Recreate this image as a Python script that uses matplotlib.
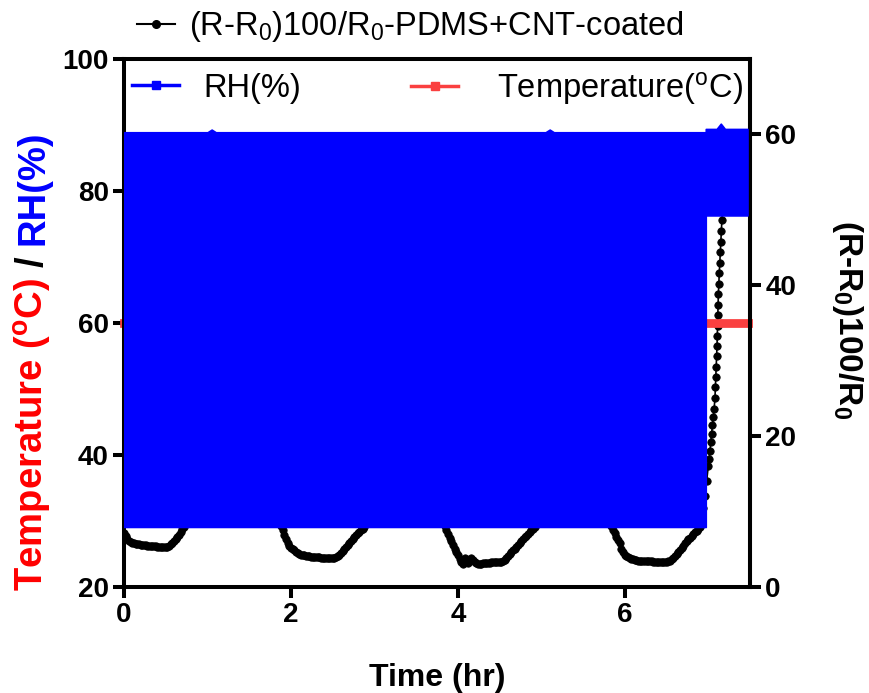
import numpy as np
import matplotlib
matplotlib.use("Agg")
import matplotlib.pyplot as plt
from matplotlib.lines import Line2D

plt.rcParams['font.family'] = ['Liberation Sans', 'DejaVu Sans']
plt.rcParams['mathtext.fontset'] = 'custom'
plt.rcParams['mathtext.rm'] = 'Liberation Sans'
plt.rcParams['mathtext.it'] = 'Liberation Sans:italic'
plt.rcParams['mathtext.bf'] = 'Liberation Sans:bold'

# ---- data -------------------------------------------------------------
# resistance change (R-R0)100/R0 of the PDMS+CNT coated sensor.
# Low-humidity dips are logged every 0.02 hr from the given start time.
dip_step = 0.02
dip1_start = 0.00
dip1 = [7.15, 6.8, 6.4, 6.05, 5.9, 5.82, 5.78, 5.74, 5.7, 5.66, 5.62, 5.58, 5.56,
        5.53, 5.5, 5.47, 5.45, 5.43, 5.4, 5.38, 5.36, 5.33, 5.31, 5.29, 5.27, 5.26,
        5.3, 5.45, 5.65, 5.85, 6.05, 6.3, 6.6, 6.95, 7.3, 7.65, 8.0]
dip2_start = 1.88
dip2 = [8.1, 7.5, 6.9, 6.3, 5.8, 5.45, 5.2, 5.0, 4.85, 4.65, 4.5, 4.4, 4.3, 4.22,
        4.18, 4.12, 4.08, 4.05, 4.02, 4.0, 3.97, 3.95, 3.94, 3.92, 3.91, 3.9, 3.88,
        3.87, 3.85, 3.83, 3.8, 3.82, 3.9, 4.0, 4.12, 4.3, 4.55, 4.8, 5.05, 5.3, 5.6,
        5.85, 6.1, 6.35, 6.6, 6.85, 7.1, 7.35, 7.5, 7.7, 7.9]
dip3_start = 3.84
dip3 = [8.1, 7.6, 7.0, 6.5, 6.05, 5.55, 5.1, 4.7, 4.25, 3.75, 3.3, 3.1, 3.8, 3.3,
        3.2, 3.4, 3.9, 3.6, 3.3, 3.15, 3.1, 3.1, 3.1, 3.12, 3.15, 3.18, 3.2, 3.22,
        3.25, 3.27, 3.28, 3.3, 3.3, 3.32, 3.35, 3.45, 3.6, 3.8, 4.05, 4.35, 4.6,
        4.85, 5.1, 5.35, 5.6, 5.85, 6.1, 6.35, 6.6, 6.8, 7.05, 7.3, 7.5, 7.7, 7.95]
dip4_start = 5.84
dip4 = [8.1, 7.6, 7.1, 6.65, 6.2, 5.8, 5.1, 4.6, 4.3, 4.15, 4.0, 3.88, 3.75, 3.65,
        3.58, 3.53, 3.5, 3.48, 3.46, 3.45, 3.43, 3.42, 3.4, 3.4, 3.39, 3.38, 3.38,
        3.37, 3.36, 3.36, 3.35, 3.35, 3.35, 3.35, 3.4, 3.5, 3.7, 3.9, 4.1, 4.35,
        4.6, 4.9, 5.2, 5.5, 5.8, 6.05, 6.3, 6.55, 6.8, 7.0, 7.25, 7.45, 7.65, 7.9]

# high-humidity stretches between the dips
hump1_time = [0.80, 0.95, 1.15, 1.40, 1.60, 1.75, 1.84]
hump1 = [10.5, 13.0, 14.5, 14.0, 12.5, 10.0, 8.8]
hump2_time = [2.95, 3.10, 3.35, 3.55, 3.72, 3.80]
hump2 = [10.0, 13.0, 14.5, 13.5, 11.0, 9.0]
hump3_time = [4.98, 5.15, 5.40, 5.60, 5.75, 5.81]
hump3 = [10.0, 13.0, 14.5, 13.0, 10.5, 8.8]

# final sharp rise after the humidity steps up
rise_time = [6.92, 6.94, 6.96, 6.98, 7.00, 7.01, 7.02, 7.03, 7.04, 7.05, 7.06, 7.07,
             7.08, 7.085, 7.09, 7.095, 7.10, 7.105, 7.108, 7.111, 7.114, 7.117,
             7.121, 7.126, 7.132, 7.138, 7.144, 7.150, 7.156, 7.163, 7.170,
             7.22, 7.28, 7.35, 7.42, 7.48]
rise = [9.0, 10.5, 12.0, 14.0, 16.0, 17.0, 18.0, 19.2, 20.3, 21.5, 22.6, 23.6,
        25.0, 26.5, 27.8, 29.2, 30.6, 32.0, 33.3, 34.6, 36.0, 37.4,
        38.8, 40.2, 41.6, 43.0, 44.4, 45.8, 47.2, 48.6, 50.0,
        52.5, 54.5, 56.0, 57.2, 58.0]

# relative humidity envelope (fast cycling between low and high RH)
rh_time = [0.00, 1.00, 1.05, 1.10, 5.05, 5.10, 5.15, 6.97]
rh_low = [29.1, 29.1, 29.1, 29.1, 29.1, 29.1, 29.1, 29.1]
rh_high = [88.9, 88.9, 89.3, 88.9, 88.9, 89.3, 88.9, 88.9]
rh2_time = [6.97, 7.10, 7.15, 7.20, 7.47]
rh2_low = [76.3, 76.3, 76.3, 76.3, 76.3]
rh2_high = [89.4, 89.4, 90.2, 89.4, 89.4]

# chamber temperature
temp_time = [0.0, 7.48]
temp_value = [60, 60]


def dip_times(start, values):
    return list(np.round(start + dip_step * np.arange(len(values)), 3))


res_time = (dip_times(dip1_start, dip1) + hump1_time + dip_times(dip2_start, dip2)
            + hump2_time + dip_times(dip3_start, dip3) + hump3_time
            + dip_times(dip4_start, dip4) + rise_time)
res_value = dip1 + hump1 + dip2 + hump2 + dip3 + hump3 + dip4 + rise

# ---- figure -----------------------------------------------------------
W, H = 869, 693
fig = plt.figure(figsize=(W / 100, H / 100), dpi=100)
ax = fig.add_axes([124 / W, 1 - 587 / H, (750 - 124) / W, (587 - 59) / H])
ax2 = ax.twinx()
ax.set_zorder(ax2.get_zorder() + 1)
ax.patch.set_visible(False)

BLUE = '#0000ff'
RED = '#fa4040'

ax2.plot(res_time, res_value, '-', color='black', lw=1.2, marker='o', ms=5.3,
         markeredgewidth=0.6)
ax.plot(temp_time, temp_value, '-', color=RED, lw=6.3, solid_capstyle='projecting',
        clip_on=False, zorder=2)
ax.fill_between(rh_time, rh_low, rh_high, color=BLUE, lw=1.2, zorder=3)
ax.fill_between(rh2_time, rh2_low, rh2_high, color=BLUE, lw=1.2, zorder=3)

ax.set_xlim(0, 7.5)
ax.set_ylim(20, 100)
ax2.set_ylim(0, 70)
ax.set_xticks([0, 2, 4, 6])
ax.set_yticks([20, 40, 60, 80, 100])
ax2.set_yticks([0, 20, 40, 60])

for a in (ax, ax2):
    for s in a.spines.values():
        s.set_linewidth(2.9)
    a.tick_params(direction='out', length=8, width=2.9, labelsize=20, pad=3)
    for lab in a.get_xticklabels() + a.get_yticklabels():
        lab.set_fontweight('bold')
for side in ('left', 'top', 'bottom'):
    ax2.spines[side].set_visible(False)

ax.set_xlabel('Time (hr)', fontsize=23, fontweight='bold', labelpad=25)

# right axis label
fig.text(847 / W, 1 - 320 / H, r'(R-R$_\mathregular{0}$)100/R$_\mathregular{0}$',
         rotation=270, ha='center', va='center', fontsize=24, fontweight='bold')

# multi-coloured left axis label, stacked from the bottom upwards
fig.canvas.draw()
renderer = fig.canvas.get_renderer()
pieces = [(r'Temperature ($\mathregular{^o}$C)', '#ff0000'), ('/', 'black'),
          ('RH(%)', BLUE)]
gap = 11
texts = []
heights = []
for s, c in pieces:
    t = fig.text(0, 0, s, rotation=90, ha='center', va='bottom', fontsize=27.5,
                 fontweight='bold', color=c, transform=None)
    bb = t.get_window_extent(renderer)
    texts.append(t)
    heights.append(bb.height)
total = sum(heights) + gap * (len(pieces) - 1)
center_y = H - 361
y = center_y - total / 2
for t, h in zip(texts, heights):
    t.set_position((33, y))
    y += h + gap

# legends
h_res = Line2D([], [], color='black', lw=1.5, marker='o', ms=5.5)
h_rh = Line2D([], [], color=BLUE, lw=2.5, marker='s', ms=6)
h_temp = Line2D([], [], color=RED, lw=2.5, marker='s', ms=6)
leg_kw = dict(frameon=False, fontsize=23.5, borderpad=0, borderaxespad=0,
              handleheight=0.7)
fig.legend([h_res], [r'(R-R$_\mathregular{0}$)100/R$_\mathregular{0}$-PDMS+CNT-coated'],
           loc='center left', bbox_to_anchor=(137 / W, 1 - 27 / H),
           handlelength=1.15, handletextpad=0.45, **leg_kw)
fig.legend([h_rh], ['RH(%)'], loc='center left',
           bbox_to_anchor=(132 / W, 1 - 88 / H),
           handlelength=1.45, handletextpad=0.75, **leg_kw)
fig.legend([h_temp], [r'Temperature($\mathregular{^o}$C)'], loc='center left',
           bbox_to_anchor=(411 / W, 1 - 88 / H),
           handlelength=1.45, handletextpad=1.2, **leg_kw)

fig.savefig('out.png', dpi=100)
